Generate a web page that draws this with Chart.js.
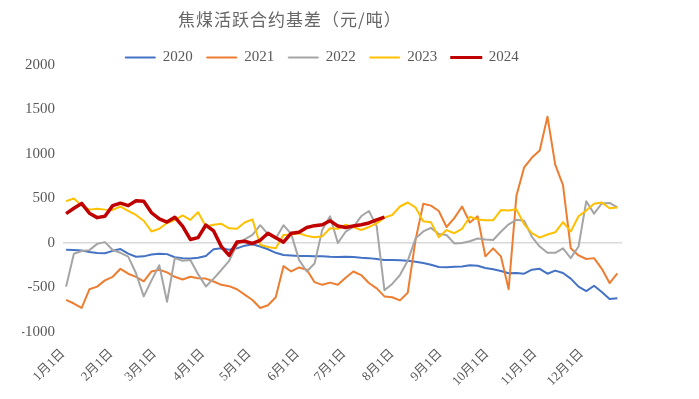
<!DOCTYPE html>
<html>
<head>
<meta charset="utf-8">
<script src="https://cdn.jsdelivr.net/npm/chart.js@4/dist/chart.umd.min.js"></script>
<style>
  body { margin: 0; background: #fff; }
  .wrap { position: relative; width: 699px; height: 399px; }
  .title {
    position: absolute; left: 178px; top: 10px;
    font: 17px "Noto Sans CJK SC", sans-serif; letter-spacing: 1px;
    line-height: 1; color: #666; white-space: nowrap;
  }
</style>
</head>
<body>
<div class="wrap">
  <div class="title">焦煤活跃合约基差（元/吨）</div>
  <canvas id="chart" width="699" height="399"></canvas>
</div>
<script>
// day of year for each sample (every 5 days)
const days = [2, 7, 12, 17, 22, 27, 32, 37, 42, 47, 52, 57, 62, 67, 72, 77, 82, 87,
  92, 97, 102, 107, 112, 117, 122, 127, 132, 137, 142, 147, 152, 157, 162, 167, 172, 177,
  182, 187, 192, 197, 202, 207, 212, 217, 222, 227, 232, 237, 242, 247, 252, 257, 262, 267,
  272, 277, 282, 287, 292, 297, 302, 307, 312, 317, 322, 327, 332, 337, 342, 347, 352, 357];

const monthStarts = [0, 31, 59, 90, 120, 151, 181, 212, 243, 273, 304, 334];
const monthLabels = ["1月1日", "2月1日", "3月1日", "4月1日", "5月1日", "6月1日",
  "7月1日", "8月1日", "9月1日", "10月1日", "11月1日", "12月1日"];

const yearLabels = ["2020", "2021", "2022", "2023", "2024"];

const v2020 = [-75, -78, -85, -100, -112, -115, -88, -68, -120, -155, -150, -130, -120, -125,
  -160, -170, -175, -165, -145, -70, -60, -75, -60, -30, -15, -40, -70, -110, -135, -140,
  -146, -145, -148, -150, -155, -157, -155, -158, -165, -170, -180, -190, -192, -195, -200,
  -210, -225, -245, -270, -272, -268, -265, -250, -255, -280, -295, -315, -340, -338, -345,
  -300, -290, -345, -310, -337, -400, -490, -540, -480, -550, -630, -620];

const v2021 = [-640, -680, -730, -520, -490, -420, -380, -290, -345, -380, -430, -320, -300,
  -330, -380, -410, -380, -395, -400, -433, -470, -485, -520, -580, -640, -730, -700, -610,
  -260, -320, -275, -300, -440, -470, -445, -470, -390, -320, -360, -450, -510, -600, -610,
  -645, -560, 30, 440, 420, 360, 180, 280, 410, 230, 300, -150, -60, -150, -520, 530, 850,
  960, 1040, 1420, 880, 650, -60, -140, -180, -170, -290, -450, -340];

const v2022 = [-490, -120, -90, -80, -10, 10, -78, -110, -153, -340, -600, -420, -250, -660,
  -170, -200, -190, -350, -489, -400, -303, -200, -20, 40, 90, 200, 100, 50, 200, 100, -190,
  -320, -230, 150, 300, 0, 127, 180, 300, 360, 190, -530, -460, -360, -200, 50, 130, 170,
  100, 90, -5, 0, 20, 50, 40, 34, 127, 210, 260, 250, 70, -40, -110, -110, -60, -170, -40,
  470, 330, 445, 450, 400];

const v2023 = [470, 500, 420, 375, 385, 375, 372, 410, 360, 315, 250, 130, 160, 225, 258, 310,
  260, 345, 185, 205, 215, 165, 160, 230, 265, -20, -45, -60, 90, 95, 109, 80, 65, 75, 165,
  160, 205, 178, 146, 180, 220, 285, 315, 410, 455, 400, 245, 232, 65, 145, 110, 160, 295,
  265, 255, 255, 370, 365, 378, 210, 110, 60, 95, 120, 235, 130, 300, 365, 440, 455, 390, 400];

const v2024 = [330, 390, 445, 335, 285, 300, 420, 448, 420, 475, 470, 340, 270, 235, 290, 190,
  40, 60, 202, 135, -41, -140, 10, 20, -5, 30, 110, 60, 10, 110, 122, 175, 195, 205, 250,
  190, 175, 190, 205, 225, 260, 290];

const seriesValues = [v2020, v2021, v2022, v2023, v2024];
const colors = ["#4472C4", "#ED7D31", "#A5A5A5", "#FFC000", "#C00000"];
const widths = [2, 2, 2, 2, 3.5];

const textColor = "#595959";
const fontFamily = "'Liberation Serif', 'Noto Sans CJK SC', serif";

const datasets = yearLabels.map((label, i) => ({
  label: label,
  data: seriesValues[i].map((v, j) => ({ x: days[j], y: v })),
  borderColor: colors[i],
  backgroundColor: colors[i],
  borderWidth: widths[i],
  pointRadius: 0,
  tension: 0,
  borderJoinStyle: "round",
  order: yearLabels.length - i // later years drawn on top
}));

// pull the legend down onto the top of the plot, like the original
const legendOverlap = {
  id: "legendOverlap",
  beforeInit(chart) {
    const fit = chart.legend.fit;
    chart.legend.fit = function () {
      fit.call(this);
      this.height -= 10;
    };
  }
};

new Chart(document.getElementById("chart"), {
  type: "line",
  data: { datasets },
  plugins: [legendOverlap],
  options: {
    responsive: false,
    animation: false,
    events: [],
    layout: { padding: { left: 22, right: 77, top: 36, bottom: 0 } },
    plugins: {
      tooltip: { enabled: false },
      legend: {
        position: "top",
        labels: {
          boxWidth: 30,
          boxHeight: 1,
          padding: 14,
          color: textColor,
          font: { family: fontFamily, size: 15 },
          generateLabels: (chart) => chart.data.datasets.map((ds, i) => ({
            text: ds.label,
            fillStyle: ds.borderColor,
            strokeStyle: ds.borderColor,
            lineWidth: i === 4 ? 2 : 1,
            fontColor: textColor,
            hidden: false,
            datasetIndex: i
          }))
        }
      }
    },
    scales: {
      x: {
        type: "linear",
        min: 0,
        max: 360,
        afterBuildTicks: (scale) => {
          scale.ticks = monthStarts.map(v => ({ value: v }));
        },
        afterFit: (scale) => { scale.height = 67; },
        grid: { display: false, drawTicks: false },
        border: { display: false },
        ticks: {
          autoSkip: false,
          minRotation: 45,
          maxRotation: 45,
          padding: 14,
          color: textColor,
          font: { family: fontFamily, size: 13 },
          callback: (value) => monthLabels[monthStarts.indexOf(value)]
        }
      },
      y: {
        min: -1000,
        max: 2000,
        afterFit: (scale) => { scale.width = 41; },
        grid: {
          drawTicks: false,
          lineWidth: 1.5,
          color: (ctx) => ctx.tick && ctx.tick.value === 0 ? "#d9d9d9" : "rgba(0,0,0,0)"
        },
        border: { display: false },
        ticks: {
          stepSize: 500,
          padding: 8,
          color: textColor,
          font: { family: fontFamily, size: 15 },
          callback: (value) => String(value)
        }
      }
    }
  }
});
</script>
</body>
</html>
